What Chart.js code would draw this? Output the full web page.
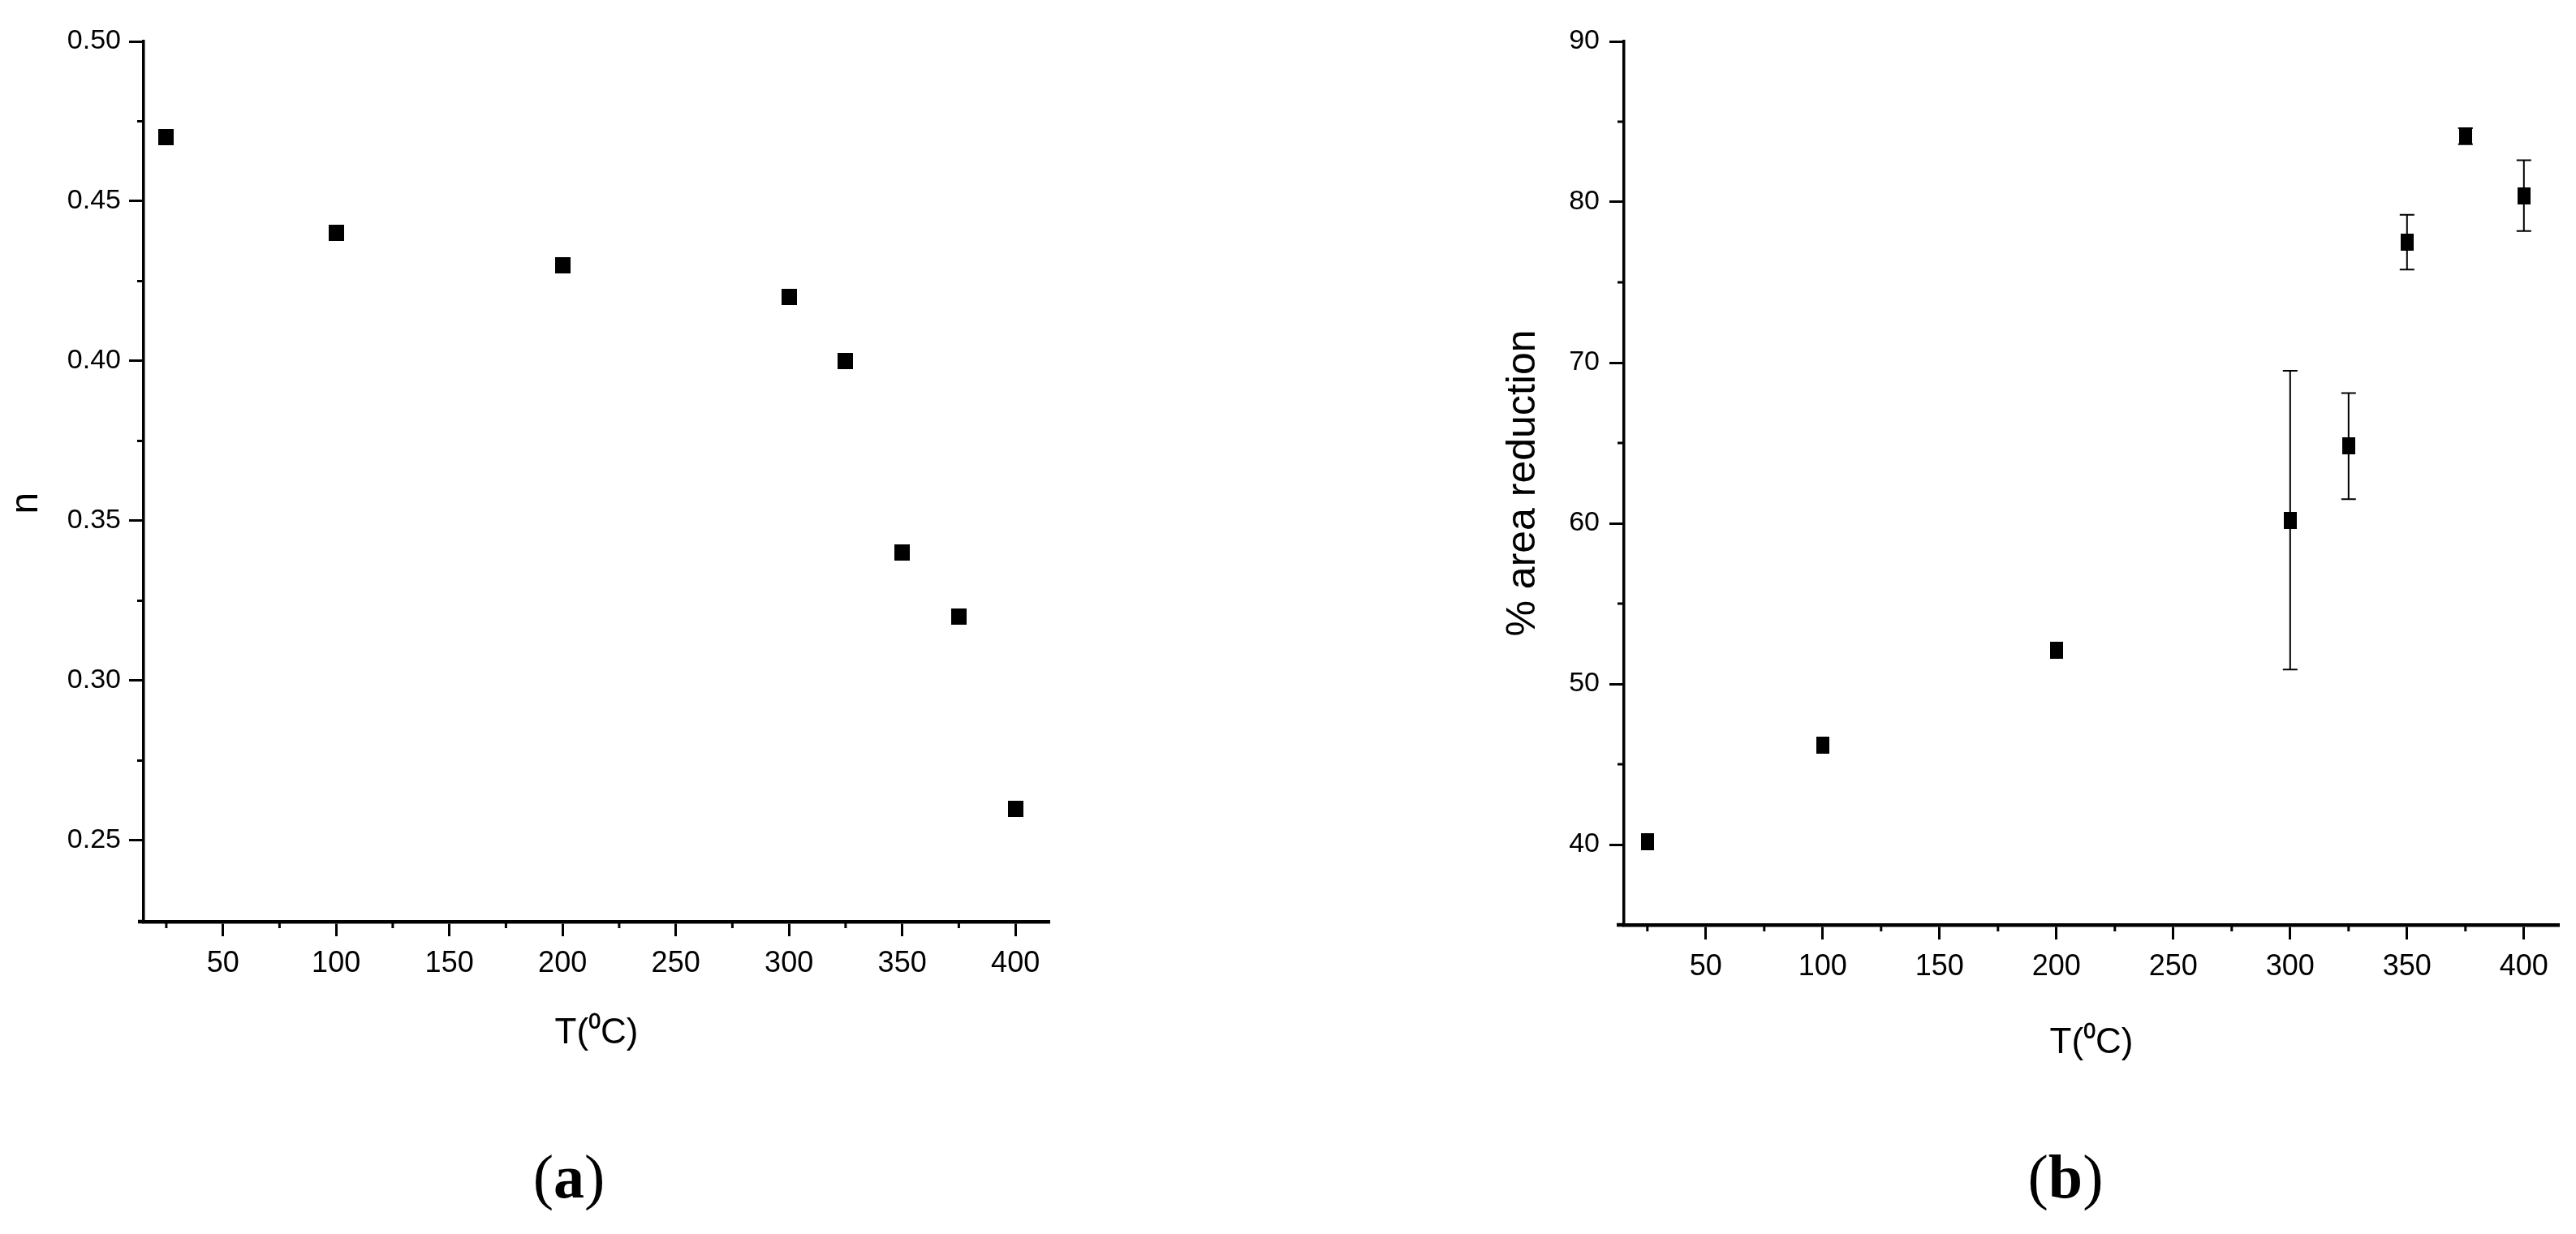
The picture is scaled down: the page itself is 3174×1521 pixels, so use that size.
<!DOCTYPE html>
<html lang="en">
<head>
    <meta charset="UTF-8">
    <title>n and % area reduction vs temperature</title>
    <script src="https://cdn.jsdelivr.net/npm/chart.js"></script>
    <style>
        html, body { margin: 0; padding: 0; background: #fff; }
        body { width: 3174px; height: 1521px; position: relative; overflow: hidden; }
        .panel { position: absolute; top: 0; width: 1587px; height: 1320px; }
        #panelA { left: 0; }
        #panelB { left: 1587px; }
        .caption {
            position: absolute; top: 1412px;
            font-family: "Liberation Serif", "Times New Roman", serif;
            font-size: 76px; line-height: 1; color: #000;
            transform: translateX(-50%); white-space: nowrap;
        }
    </style>
</head>
<body>
    <div class="panel" id="panelA"><canvas id="chartA" width="1587" height="1320"></canvas></div>
    <div class="panel" id="panelB"><canvas id="chartB" width="1587" height="1320"></canvas></div>
    <div class="caption" style="left: 701px;">(<b>a</b>)</div>
    <div class="caption" style="left: 2545px;">(<b>b</b>)</div>

    <script>
        // shared temperature axis
        const tempTicks = [50, 100, 150, 200, 250, 300, 350, 400];
        const tempTickLabels = ['50', '100', '150', '200', '250', '300', '350', '400'];
        const tempMinorTicks = [25, 75, 125, 175, 225, 275, 325, 375];

        // panel (a): n vs T
        const tempsA = [25, 100, 200, 300, 325, 350, 375, 400];
        const nValues = [0.47, 0.44, 0.43, 0.42, 0.40, 0.34, 0.32, 0.26];
        const nTicks = [0.25, 0.30, 0.35, 0.40, 0.45, 0.50];
        const nTickLabels = ['0.25', '0.30', '0.35', '0.40', '0.45', '0.50'];
        const nMinorTicks = [0.275, 0.325, 0.375, 0.425, 0.475];

        // panel (b): % area reduction vs T, with error bars
        const tempsB = [25, 100, 200, 300, 325, 350, 375, 400];
        const areaReduction = [40.2, 46.2, 52.1, 60.2, 64.8, 77.5, 84.1, 80.4];
        const areaError = [0, 0, 0, 9.3, 3.3, 1.7, 0.5, 2.2];
        const areaTicks = [40, 50, 60, 70, 80, 90];
        const areaTickLabels = ['40', '50', '60', '70', '80', '90'];
        const areaMinorTicks = [45, 55, 65, 75, 85];

        const FONT = '"Liberation Sans", Arial, sans-serif';

        function squareMarker(w, h) {
            const c = document.createElement('canvas');
            c.width = w; c.height = h;
            const g = c.getContext('2d');
            g.fillStyle = '#000';
            g.fillRect(0, 0, w, h);
            return c;
        }

        // short outward minor ticks + small overhang of the x axis past the y axis
        const minorTicksPlugin = {
            id: 'minorTicks',
            afterDraw(chart, args, opts) {
                const { ctx, chartArea, scales } = chart;
                ctx.save();
                ctx.strokeStyle = '#000';
                ctx.lineWidth = opts.width || 3;
                const len = opts.length || 8;
                ctx.beginPath();
                (opts.x || []).forEach(v => {
                    const px = scales.x.getPixelForValue(v);
                    ctx.moveTo(px, chartArea.bottom);
                    ctx.lineTo(px, chartArea.bottom + len);
                });
                (opts.y || []).forEach(v => {
                    const py = scales.y.getPixelForValue(v);
                    ctx.moveTo(chartArea.left, py);
                    ctx.lineTo(chartArea.left - len, py);
                });
                ctx.stroke();
                if (opts.overhang) {
                    ctx.lineWidth = opts.overhangWidth || 4.5;
                    ctx.beginPath();
                    ctx.moveTo(chartArea.left - opts.overhang, chartArea.bottom);
                    ctx.lineTo(chartArea.left, chartArea.bottom);
                    ctx.stroke();
                }
                ctx.restore();
            }
        };

        const errorBarsPlugin = {
            id: 'errorBars',
            beforeDatasetsDraw(chart, args, opts) {
                const errs = opts.errors;
                if (!errs) return;
                const { ctx, scales } = chart;
                const meta = chart.getDatasetMeta(0);
                const vals = chart.data.datasets[0].data;
                const half = (opts.capWidth || 18) / 2;
                ctx.save();
                ctx.strokeStyle = '#000';
                ctx.lineWidth = opts.lineWidth || 2;
                meta.data.forEach((pt, i) => {
                    const e = errs[i];
                    if (!e) return;
                    const v = vals[i].y;
                    const top = scales.y.getPixelForValue(v + e);
                    const bot = scales.y.getPixelForValue(v - e);
                    ctx.beginPath();
                    ctx.moveTo(pt.x, top); ctx.lineTo(pt.x, bot);
                    ctx.moveTo(pt.x - half, top); ctx.lineTo(pt.x + half, top);
                    ctx.moveTo(pt.x - half, bot); ctx.lineTo(pt.x + half, bot);
                    ctx.stroke();
                });
                ctx.restore();
            }
        };

        function xScale(height, titlePad) {
            return {
                type: 'linear', min: 15, max: 415,
                afterBuildTicks: s => { s.ticks = tempTicks.map(v => ({ value: v })); },
                afterFit: s => { s.height = height; },
                ticks: {
                    autoSkip: false, maxRotation: 0, padding: 12, color: '#000',
                    font: { family: FONT, size: 36 },
                    callback: (v, i) => tempTickLabels[i]
                },
                grid: { display: true, drawOnChartArea: false, tickLength: 18, tickWidth: 3, tickColor: '#000' },
                border: { display: true, color: '#000', width: 4.5 },
                title: {
                    display: true, text: 'T(\u2070C)', color: '#000',
                    font: { family: FONT, size: 44 }, padding: { top: 0, bottom: titlePad }
                }
            };
        }

        function yScale(cfg) {
            return {
                type: 'linear', min: cfg.min, max: cfg.max,
                afterBuildTicks: s => { s.ticks = cfg.ticks.map(v => ({ value: v })); },
                afterFit: s => { s.width = cfg.width; },
                ticks: {
                    autoSkip: false, padding: cfg.tickPad, color: '#000',
                    font: { family: FONT, size: 34 },
                    callback: (v, i) => cfg.labels[i]
                },
                grid: { display: true, drawOnChartArea: false, tickLength: 18, tickWidth: 3, tickColor: '#000' },
                border: { display: true, color: '#000', width: 3.5 },
                title: {
                    display: true, text: cfg.title, color: '#000',
                    font: { family: FONT, size: cfg.titleSize }, padding: { top: cfg.titlePad, bottom: 0 }
                }
            };
        }

        new Chart(document.getElementById('chartA'), {
            type: 'scatter',
            data: {
                datasets: [{
                    data: tempsA.map((t, i) => ({ x: t, y: nValues[i] })),
                    pointStyle: squareMarker(19, 20),
                    pointRadius: 10,
                    backgroundColor: '#000',
                    borderColor: '#000'
                }]
            },
            options: {
                responsive: false,
                animation: false,
                layout: { padding: { top: 51, right: 294, bottom: 0, left: 0 } },
                scales: {
                    x: xScale(184, 20),
                    y: yScale({
                        min: 0.2246, max: 0.5, ticks: nTicks, labels: nTickLabels,
                        width: 177, tickPad: 10, title: 'n    ', titleSize: 48, titlePad: 4
                    })
                },
                plugins: {
                    legend: { display: false },
                    tooltip: { enabled: false },
                    minorTicks: { x: tempMinorTicks, y: nMinorTicks, length: 8, width: 3, overhang: 7 }
                }
            },
            plugins: [minorTicksPlugin]
        });

        new Chart(document.getElementById('chartB'), {
            type: 'scatter',
            data: {
                datasets: [{
                    data: tempsB.map((t, i) => ({ x: t, y: areaReduction[i] })),
                    pointStyle: squareMarker(16, 21),
                    pointRadius: 10,
                    backgroundColor: '#000',
                    borderColor: '#000'
                }]
            },
            options: {
                responsive: false,
                animation: false,
                layout: { padding: { top: 51, right: 21, bottom: 0, left: 0 } },
                scales: {
                    x: xScale(180, 8),
                    y: yScale({
                        min: 35, max: 90, ticks: areaTicks, labels: areaTickLabels,
                        width: 414, tickPad: 12, title: '% area reduction', titleSize: 50, titlePad: 260
                    })
                },
                plugins: {
                    legend: { display: false },
                    tooltip: { enabled: false },
                    minorTicks: { x: tempMinorTicks, y: areaMinorTicks, length: 8, width: 3, overhang: 9 },
                    errorBars: { errors: areaError, capWidth: 18, lineWidth: 2 }
                }
            },
            plugins: [minorTicksPlugin, errorBarsPlugin]
        });
    </script>
</body>
</html>
